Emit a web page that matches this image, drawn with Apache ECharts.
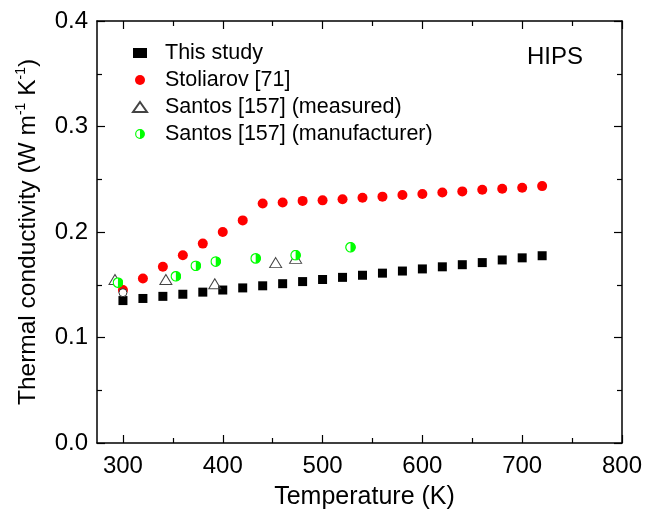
<!DOCTYPE html>
<html>
<head>
<meta charset="utf-8">
<script src="https://cdn.jsdelivr.net/npm/echarts@6/dist/echarts.min.js"></script>
<style>
html,body{margin:0;padding:0;background:#fff;}
#chart{width:647px;height:521px;}
</style>
</head>
<body>
<div id="chart"></div>
<script>
// ---- data ----
const thisStudyT = [300,320,340,360,380,400,420,440,460,480,500,520,540,560,580,600,620,640,660,680,700,720];
const thisStudyK = [0.135,0.137,0.139,0.141,0.143,0.145,0.147,0.149,0.151,0.153,0.155,0.157,0.159,0.161,0.163,0.165,0.167,0.169,0.171,0.1735,0.1755,0.1775];
const stoliarovT = [300,320,340,360,380,400,420,440,460,480,500,520,540,560,580,600,620,640,660,680,700,720];
const stoliarovK = [0.145,0.156,0.167,0.178,0.189,0.200,0.211,0.227,0.228,0.2295,0.230,0.231,0.2325,0.2335,0.235,0.236,0.2375,0.2385,0.240,0.241,0.242,0.2435];
const santosMeasT = [292,343,392,453,473];
const santosMeasK = [0.155,0.155,0.151,0.171,0.175];
const santosManT = [295,353,373,393,433,473,528];
const santosManK = [0.152,0.158,0.168,0.172,0.175,0.178,0.1855];
const openCircleT = [300];
const openCircleK = [0.1425];
const xMajorTicks = [300,400,500,600,700,800];
const xMinorTicks = [350,450,550,650,750];
const seriesNames = ['This study','Stoliarov [71]','Santos [157] (measured)','Santos [157] (manufacturer)'];

const pairs = (xs, ys) => xs.map((x, i) => [x, ys[i]]);
const FONT = '"Liberation Sans", Arial, sans-serif';
const svgHalf = "<svg xmlns='http://www.w3.org/2000/svg' width='44' height='44' viewBox='0 0 44 44'>" +
  "<circle cx='22' cy='22' r='19' fill='#ffffff' stroke='#00ff00' stroke-width='5'/>" +
  "<path d='M22 2.5 A19.5 19.5 0 0 1 22 41.5 Z' fill='#00ff00'/></svg>";
const halfSymbol = 'image://data:image/svg+xml;charset=utf-8,' + encodeURIComponent(svgHalf);

const xRange = {min: 274, max: 800};
const lineStyle = {color: '#000', width: 1.5};
function xAx(pos, ticks, len, showLine, labels) {
  return Object.assign({
    type: 'value', position: pos, splitLine: {show: false},
    axisLine: {show: showLine, onZero: false, lineStyle: lineStyle},
    axisTick: {show: true, inside: true, length: len, customValues: ticks, lineStyle: {color: '#000', width: 1.2}},
    axisLabel: labels ? {show: true, customValues: ticks, fontSize: 24, fontFamily: FONT, color: '#000', margin: 11} : {show: false}
  }, xRange);
}

const chart = echarts.init(document.getElementById('chart'), null, {renderer: 'canvas'});
chart.setOption({
  animation: false,
  backgroundColor: '#fff',
  grid: {left: 97, right: 25, top: 21, bottom: 78, containLabel: false},
  legend: {
    data: seriesNames, orient: 'vertical', left: 127, top: 37,
    itemWidth: 14, itemHeight: 10, itemGap: 5, symbolKeepAspect: true,
    textStyle: {fontSize: 21.5, fontFamily: FONT, color: '#000', lineHeight: 22, padding: [0, 0, 0, 13]}
  },
  graphic: [{type: 'text', left: 527, top: 45, style: {text: 'HIPS', fontSize: 24, fontFamily: FONT, fill: '#000'}}],
  xAxis: [
    Object.assign(xAx('bottom', xMajorTicks, 8, true, true), {
      name: 'Temperature (K)', nameLocation: 'middle', nameGap: 42,
      nameTextStyle: {fontSize: 25, fontFamily: FONT, color: '#000', padding: [0, 0, 0, 10]}
    }),
    xAx('bottom', xMinorTicks, 5, false, false),
    xAx('top', xMajorTicks, 8, true, false),
    xAx('top', xMinorTicks, 5, false, false)
  ],
  yAxis: [
    {
      type: 'value', position: 'left', min: 0, max: 0.4, interval: 0.1, splitLine: {show: false},
      axisLine: {show: true, onZero: false, lineStyle: lineStyle},
      axisTick: {show: true, inside: true, length: 8, lineStyle: {color: '#000', width: 1.2}},
      minorTick: {show: true, splitNumber: 2, length: 5, lineStyle: {color: '#000', width: 1.2}},
      axisLabel: {fontSize: 24, fontFamily: FONT, color: '#000', margin: 9, formatter: v => v.toFixed(1)},
      name: 'Thermal conductivity (W m{sup|-1} K{sup|-1})', nameLocation: 'middle', nameGap: 55,
      nameTextStyle: {fontSize: 24.5, fontFamily: FONT, color: '#000', lineHeight: 28,
        rich: {sup: {fontSize: 14, fontFamily: FONT, color: '#000', verticalAlign: 'top', lineHeight: 14}}}
    },
    {
      type: 'value', position: 'right', min: 0, max: 0.4, interval: 0.1, splitLine: {show: false},
      axisLine: {show: true, onZero: false, lineStyle: lineStyle},
      axisTick: {show: true, inside: true, length: 8, lineStyle: {color: '#000', width: 1.2}},
      minorTick: {show: true, splitNumber: 2, length: 5, lineStyle: {color: '#000', width: 1.2}},
      axisLabel: {show: false}
    }
  ],
  series: [
    {name: seriesNames[0], type: 'scatter', symbol: 'rect', symbolSize: 9,
     itemStyle: {color: '#000', opacity: 1}, data: pairs(thisStudyT, thisStudyK), z: 3},
    {name: seriesNames[1], type: 'scatter', symbol: 'circle', symbolSize: 10,
     itemStyle: {color: '#ff0000', opacity: 1}, data: pairs(stoliarovT, stoliarovK), z: 2},
    {name: 'open', type: 'scatter', symbol: 'circle', symbolSize: 8,
     itemStyle: {color: '#fff', borderColor: '#333', borderWidth: 1, opacity: 1}, data: pairs(openCircleT, openCircleK), z: 4},
    {name: seriesNames[2], type: 'scatter', symbol: 'triangle', symbolSize: [12, 10],
     itemStyle: {color: 'rgba(255,255,255,0)', borderColor: '#444', borderWidth: 1, opacity: 1}, data: pairs(santosMeasT, santosMeasK), z: 5},
    {name: seriesNames[3], type: 'scatter', symbol: halfSymbol, symbolSize: 11,
     itemStyle: {color: '#00ff00', opacity: 1}, data: pairs(santosManT, santosManK), z: 6}
  ]
});
</script>
</body>
</html>
